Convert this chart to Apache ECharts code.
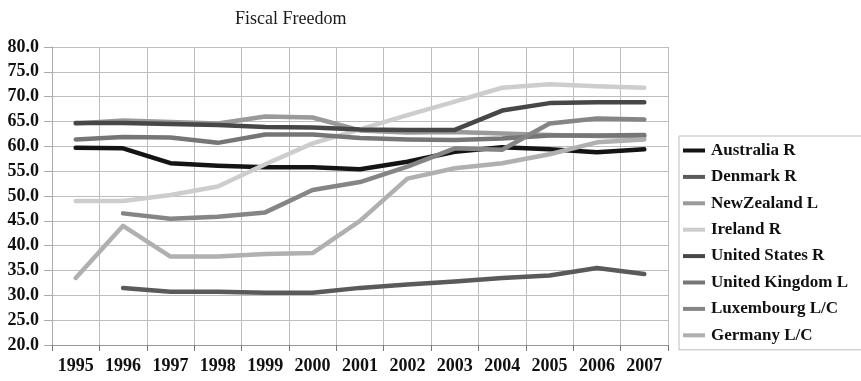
<!DOCTYPE html>
<html>
<head>
<meta charset="utf-8">
<script src="https://cdn.jsdelivr.net/npm/echarts@6/dist/echarts.min.js"></script>
<style>
  html, body { margin: 0; padding: 0; background: #fff; }
  #chart { width: 861px; height: 381px; }
</style>
</head>
<body>
<div id="chart"></div>
<script>
// Fiscal freedom scores by country, 1995-2007
const years = ['1995','1996','1997','1998','1999','2000','2001','2002','2003','2004','2005','2006','2007'];
const yTicks = [20, 80, 5];

const australia     = [59.7, 59.6, 56.6, 56.1, 55.8, 55.8, 55.4, 56.9, 58.9, 59.8, 59.4, 58.8, 59.4];
const denmark       = [null, 31.5, 30.7, 30.7, 30.5, 30.5, 31.5, 32.2, 32.8, 33.5, 34.0, 35.5, 34.3];
const newZealand    = [64.6, 65.2, 64.9, 64.6, 66.0, 65.8, 63.2, 62.8, 62.9, 62.6, 62.3, 62.1, 62.0];
const ireland       = [49.0, 49.0, 50.2, 51.9, 56.4, 60.6, 63.4, 66.3, 69.0, 71.8, 72.5, 72.1, 71.8];
const unitedStates  = [64.7, 64.7, 64.5, 64.3, 63.9, 63.8, 63.4, 63.3, 63.3, 67.2, 68.7, 68.9, 68.9];
const unitedKingdom = [61.4, 61.9, 61.8, 60.7, 62.4, 62.4, 61.7, 61.4, 61.3, 61.6, 62.2, 62.2, 62.3];
const luxembourg    = [null, 46.5, 45.4, 45.8, 46.7, 51.2, 52.8, 55.9, 59.6, 59.3, 64.6, 65.6, 65.4];
const germany       = [33.5, 44.0, 37.8, 37.8, 38.3, 38.5, 45.0, 53.5, 55.6, 56.6, 58.4, 60.8, 61.4];

const seriesDefs = [
  ['Australia R', australia, '#141414'],
  ['Denmark R', denmark, '#5a5a5a'],
  ['NewZealand L', newZealand, '#9a9a9a'],
  ['Ireland R', ireland, '#cdcdcd'],
  ['United States R', unitedStates, '#474747'],
  ['United Kingdom L', unitedKingdom, '#767676'],
  ['Luxembourg L/C', luxembourg, '#858585'],
  ['Germany L/C', germany, '#b0b0b0']
];

const serif = '"Liberation Serif", "DejaVu Serif", serif';
const chart = echarts.init(document.getElementById('chart'), null, { renderer: 'canvas' });

chart.setOption({
  animation: false,
  backgroundColor: '#fff',
  title: {
    text: 'Fiscal Freedom',
    left: 230,
    top: 5,
    textStyle: { fontFamily: serif, fontSize: 18, fontWeight: 'normal', color: '#1a1a1a' }
  },
  grid: { left: 52, right: 193, top: 47, bottom: 36 },
  legend: {
    orient: 'vertical',
    left: 679,
    top: 136,
    width: 200,
    padding: [6, 40, 6, 4],
    itemGap: 9.4,
    itemWidth: 22,
    itemHeight: 4,
    icon: 'rect',
    borderColor: '#bdbdbd',
    borderWidth: 1,
    backgroundColor: '#fff',
    textStyle: { fontFamily: serif, fontSize: 17, fontWeight: 'bold', color: '#111', padding: [0, 0, 0, 1] },
    data: seriesDefs.map(d => d[0])
  },
  xAxis: {
    type: 'category',
    data: years,
    boundaryGap: true,
    axisLine: { show: true, lineStyle: { color: '#999' } },
    axisTick: { show: true, length: 6, lineStyle: { color: '#777' } },
    splitLine: { show: true, lineStyle: { color: '#bdbdbd', width: 1 } },
    axisLabel: { fontFamily: serif, fontSize: 18, fontWeight: 'bold', color: '#111', margin: 12 }
  },
  yAxis: {
    type: 'value',
    min: yTicks[0],
    max: yTicks[1],
    interval: yTicks[2],
    axisLine: { show: true, lineStyle: { color: '#aaa' } },
    axisTick: { show: true, length: 8, lineStyle: { color: '#aaa' } },
    splitLine: { show: true, lineStyle: { color: '#bdbdbd', width: 1 } },
    axisLabel: {
      fontFamily: serif, fontSize: 18, fontWeight: 'bold', color: '#111', margin: 13,
      formatter: v => v.toFixed(1)
    }
  },
  series: seriesDefs.map(([name, values, color]) => ({
    name,
    type: 'line',
    data: values,
    showSymbol: false,
    symbol: 'none',
    connectNulls: false,
    color,
    lineStyle: { color, width: 4.5, cap: 'round', join: 'round' },
    emphasis: { disabled: true }
  }))
});
</script>
</body>
</html>
